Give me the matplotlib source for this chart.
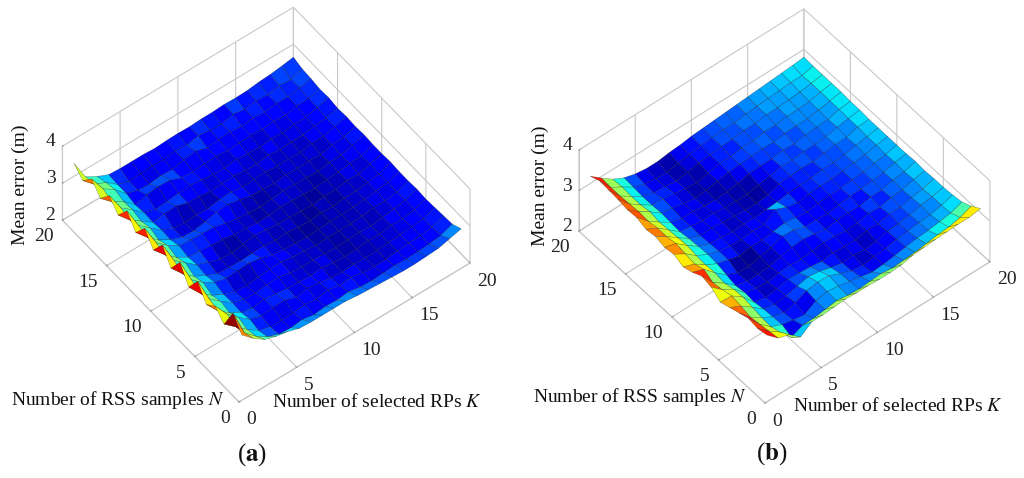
import numpy as np
import matplotlib
matplotlib.use("Agg")
import matplotlib.pyplot as plt
from matplotlib.colors import Normalize
from mpl_toolkits.mplot3d import proj3d

plt.rcParams['font.family'] = ['Liberation Serif', 'DejaVu Serif']
plt.rcParams['mathtext.fontset'] = 'stix'
plt.rcParams['grid.color'] = '#c8c8c8'
plt.rcParams['grid.linewidth'] = 0.8

K_values = list(range(1, 21))
N_values = list(range(1, 21))
K_ticks = [0, 5, 10, 15, 20]
N_ticks = [0, 5, 10, 15, 20]
Z_ticks = [2, 3, 4]

# mean error, rows are N = 1..20, columns are K = 1..20
error_a = [
    [3.38, 3.10, 2.88, 2.78, 2.72, 2.62, 2.60, 2.60, 2.60, 2.60, 2.56, 2.54, 2.52, 2.50, 2.48, 2.48, 2.50, 2.52, 2.60, 2.68],
    [3.72, 3.00, 2.72, 2.52, 2.40, 2.38, 2.42, 2.36, 2.40, 2.38, 2.42, 2.36, 2.34, 2.36, 2.38, 2.36, 2.38, 2.40, 2.44, 2.56],
    [3.18, 2.92, 2.66, 2.44, 2.36, 2.34, 2.36, 2.40, 2.34, 2.42, 2.34, 2.38, 2.32, 2.30, 2.30, 2.34, 2.36, 2.38, 2.42, 2.54],
    [3.42, 3.02, 2.74, 2.50, 2.40, 2.44, 2.46, 2.34, 2.40, 2.36, 2.30, 2.28, 2.30, 2.28, 2.30, 2.32, 2.34, 2.38, 2.40, 2.52],
    [3.22, 2.86, 2.62, 2.44, 2.38, 2.42, 2.38, 2.34, 2.32, 2.30, 2.34, 2.28, 2.26, 2.28, 2.32, 2.30, 2.36, 2.34, 2.40, 2.50],
    [3.60, 2.94, 2.68, 2.46, 2.36, 2.34, 2.38, 2.40, 2.32, 2.30, 2.30, 2.28, 2.26, 2.28, 2.30, 2.28, 2.32, 2.36, 2.42, 2.52],
    [3.20, 2.84, 2.60, 2.44, 2.32, 2.30, 2.34, 2.36, 2.38, 2.32, 2.30, 2.26, 2.28, 2.28, 2.28, 2.30, 2.34, 2.34, 2.38, 2.50],
    [3.62, 2.96, 2.70, 2.52, 2.44, 2.46, 2.48, 2.42, 2.32, 2.28, 2.26, 2.24, 2.26, 2.28, 2.28, 2.30, 2.32, 2.36, 2.40, 2.50],
    [3.22, 2.88, 2.62, 2.46, 2.32, 2.30, 2.28, 2.30, 2.32, 2.28, 2.30, 2.26, 2.24, 2.28, 2.26, 2.30, 2.30, 2.34, 2.38, 2.52],
    [3.60, 3.00, 2.74, 2.50, 2.38, 2.28, 2.26, 2.30, 2.36, 2.32, 2.28, 2.28, 2.26, 2.24, 2.28, 2.28, 2.34, 2.32, 2.40, 2.50],
    [3.22, 2.90, 2.64, 2.46, 2.44, 2.40, 2.38, 2.32, 2.30, 2.26, 2.28, 2.32, 2.30, 2.28, 2.26, 2.30, 2.32, 2.36, 2.38, 2.50],
    [3.56, 2.98, 2.72, 2.52, 2.50, 2.48, 2.46, 2.38, 2.32, 2.28, 2.26, 2.28, 2.32, 2.30, 2.30, 2.28, 2.34, 2.34, 2.42, 2.52],
    [3.20, 2.88, 2.62, 2.44, 2.32, 2.30, 2.36, 2.44, 2.46, 2.40, 2.32, 2.30, 2.28, 2.32, 2.30, 2.32, 2.30, 2.38, 2.40, 2.50],
    [3.54, 2.96, 2.70, 2.46, 2.32, 2.28, 2.30, 2.28, 2.34, 2.36, 2.30, 2.32, 2.34, 2.30, 2.32, 2.30, 2.36, 2.36, 2.44, 2.52],
    [3.18, 2.86, 2.64, 2.42, 2.46, 2.48, 2.38, 2.36, 2.32, 2.34, 2.36, 2.32, 2.30, 2.36, 2.32, 2.34, 2.34, 2.40, 2.42, 2.50],
    [3.46, 2.94, 2.70, 2.44, 2.34, 2.36, 2.40, 2.42, 2.38, 2.34, 2.32, 2.38, 2.34, 2.32, 2.36, 2.34, 2.38, 2.38, 2.46, 2.54],
    [3.14, 2.86, 2.68, 2.40, 2.48, 2.52, 2.50, 2.38, 2.36, 2.38, 2.40, 2.36, 2.38, 2.40, 2.38, 2.40, 2.38, 2.44, 2.46, 2.52],
    [3.42, 2.96, 2.76, 2.46, 2.36, 2.34, 2.38, 2.36, 2.44, 2.48, 2.38, 2.42, 2.44, 2.40, 2.44, 2.40, 2.46, 2.44, 2.50, 2.56],
    [3.13, 2.84, 2.70, 2.46, 2.36, 2.38, 2.40, 2.38, 2.42, 2.40, 2.46, 2.42, 2.40, 2.48, 2.42, 2.46, 2.44, 2.50, 2.48, 2.58],
    [3.35, 2.80, 2.62, 2.48, 2.46, 2.46, 2.46, 2.44, 2.46, 2.47, 2.46, 2.48, 2.48, 2.50, 2.49, 2.50, 2.54, 2.56, 2.60, 2.65],
]

error_b = [
    [3.29, 3.04, 2.95, 2.72, 2.92, 2.92, 2.94, 2.96, 2.94, 2.94, 2.92, 2.92, 2.94, 3.00, 3.02, 3.04, 3.05, 3.06, 3.06, 3.10],
    [3.24, 3.00, 2.80, 2.50, 2.62, 2.62, 2.66, 2.70, 2.66, 2.64, 2.66, 2.68, 2.64, 2.66, 2.68, 2.72, 2.76, 2.78, 2.84, 2.95],
    [3.28, 2.96, 2.72, 2.60, 2.54, 2.50, 2.66, 2.72, 2.68, 2.62, 2.56, 2.50, 2.52, 2.56, 2.60, 2.64, 2.66, 2.70, 2.74, 2.84],
    [3.20, 2.92, 2.74, 2.58, 2.50, 2.58, 2.70, 2.74, 2.72, 2.60, 2.50, 2.46, 2.50, 2.52, 2.58, 2.60, 2.64, 2.66, 2.72, 2.80],
    [3.12, 2.98, 2.78, 2.56, 2.50, 2.54, 2.60, 2.66, 2.62, 2.54, 2.48, 2.50, 2.46, 2.50, 2.56, 2.58, 2.62, 2.68, 2.72, 2.78],
    [3.04, 3.02, 2.82, 2.52, 2.46, 2.50, 2.56, 2.54, 2.52, 2.48, 2.52, 2.50, 2.48, 2.54, 2.54, 2.60, 2.60, 2.66, 2.70, 2.78],
    [3.20, 2.96, 2.80, 2.54, 2.48, 2.46, 2.50, 2.52, 2.50, 2.52, 2.56, 2.54, 2.50, 2.52, 2.58, 2.56, 2.62, 2.64, 2.72, 2.76],
    [3.26, 2.92, 2.74, 2.50, 2.44, 2.44, 2.46, 2.52, 2.58, 2.60, 2.56, 2.50, 2.54, 2.56, 2.54, 2.60, 2.60, 2.66, 2.70, 2.78],
    [3.14, 3.04, 2.78, 2.56, 2.43, 2.42, 2.48, 2.54, 2.64, 2.62, 2.52, 2.52, 2.50, 2.54, 2.58, 2.58, 2.62, 2.64, 2.72, 2.76],
    [3.06, 2.96, 2.76, 2.62, 2.54, 2.46, 2.52, 2.50, 2.54, 2.58, 2.54, 2.50, 2.54, 2.56, 2.56, 2.60, 2.62, 2.66, 2.70, 2.76],
    [3.16, 3.00, 2.78, 2.64, 2.54, 2.50, 2.48, 2.52, 2.50, 2.70, 2.58, 2.52, 2.56, 2.58, 2.58, 2.60, 2.64, 2.66, 2.72, 2.76],
    [3.12, 3.04, 2.82, 2.62, 2.52, 2.50, 2.46, 2.48, 2.46, 2.48, 2.50, 2.54, 2.56, 2.56, 2.60, 2.60, 2.62, 2.68, 2.72, 2.76],
    [3.18, 3.00, 2.80, 2.60, 2.50, 2.52, 2.48, 2.46, 2.44, 2.43, 2.46, 2.56, 2.58, 2.60, 2.58, 2.62, 2.66, 2.66, 2.74, 2.76],
    [3.14, 3.00, 2.78, 2.56, 2.52, 2.48, 2.50, 2.46, 2.44, 2.44, 2.50, 2.54, 2.60, 2.58, 2.62, 2.62, 2.64, 2.70, 2.74, 2.78],
    [3.22, 2.96, 2.76, 2.58, 2.50, 2.50, 2.46, 2.44, 2.46, 2.50, 2.56, 2.58, 2.58, 2.62, 2.60, 2.64, 2.66, 2.68, 2.75, 2.78],
    [3.20, 2.98, 2.80, 2.60, 2.54, 2.48, 2.44, 2.46, 2.52, 2.56, 2.58, 2.60, 2.62, 2.60, 2.64, 2.66, 2.66, 2.70, 2.75, 2.80],
    [3.24, 2.96, 2.76, 2.58, 2.56, 2.52, 2.46, 2.44, 2.50, 2.56, 2.56, 2.60, 2.60, 2.64, 2.64, 2.68, 2.68, 2.70, 2.76, 2.80],
    [3.26, 2.94, 2.76, 2.58, 2.50, 2.48, 2.44, 2.48, 2.54, 2.56, 2.60, 2.60, 2.64, 2.64, 2.68, 2.68, 2.70, 2.72, 2.76, 2.80],
    [3.28, 2.94, 2.78, 2.60, 2.50, 2.46, 2.44, 2.50, 2.54, 2.58, 2.60, 2.62, 2.62, 2.66, 2.68, 2.70, 2.72, 2.74, 2.74, 2.80],
    [3.18, 2.96, 2.76, 2.62, 2.54, 2.50, 2.50, 2.54, 2.56, 2.60, 2.62, 2.64, 2.66, 2.68, 2.70, 2.72, 2.74, 2.76, 2.78, 2.81],
]

W, H = 1024, 478
fig = plt.figure(figsize=(W / 100, H / 100), dpi=100)


def corner_px(ax, x, y, z):
    xs, ys, _ = proj3d.proj_transform(x, y, z, ax.get_proj())
    return ax.transData.transform((xs, ys))


def tick_label(ax, x, y, z, s, dx, dy, ha):
    px, py = corner_px(ax, x, y, z)
    fig.text((px + dx) / W, (py - dy) / H, s, ha=ha, va='center', fontsize=14, color='#222222')


def draw_panel(left, error, vmin, vmax, elev, azim, aspect, origin, k_end):
    ax = fig.add_axes([left / W, 0.0, 478 / W, 1.0], projection='3d', proj_type='ortho')
    ax.patch.set_alpha(0)
    ax.view_init(elev=elev, azim=azim)
    ax.set_xlim(0, 20)
    ax.set_ylim(0, 20)
    ax.set_zlim(2, 4)
    ax.set_xticks(K_ticks)
    ax.set_yticks(N_ticks)
    ax.set_zticks(Z_ticks)
    ax.set_xticklabels([])
    ax.set_yticklabels([])
    ax.set_zticklabels([])
    ax.tick_params(color='#999999', width=0.6)
    for axis in (ax.xaxis, ax.yaxis, ax.zaxis):
        axis.set_pane_color((1, 1, 1, 0))
        axis.pane.set_edgecolor('#c8c8c8')
        axis.line.set_color('#c8c8c8')
        axis.line.set_linewidth(0.8)
        axis._axinfo['tick']['inward_factor'] = 0.0
        axis._axinfo['tick']['outward_factor'] = 0.06

    X, Y = np.meshgrid(K_values, N_values)
    Z = np.array(error)
    colors = plt.cm.jet(Normalize(vmin, vmax)(Z))
    ax.plot_surface(X, Y, Z, facecolors=colors, rstride=1, cstride=1, shade=False,
                    edgecolor=(0, 0, 0, 0.5), linewidth=0.3, antialiased=True)

    # fit the box onto the pixel positions of the floor corners
    ax.set_box_aspect(aspect, zoom=1.0)
    fig.canvas.draw()
    p0 = corner_px(ax, 0, 0, 2)
    p1 = corner_px(ax, 20, 0, 2)
    zoom = np.hypot(*(np.array(k_end) - np.array(origin))) / np.hypot(*(p1 - p0))
    ax.set_box_aspect(aspect, zoom=zoom)
    fig.canvas.draw()
    p0 = corner_px(ax, 0, 0, 2)
    pos = ax.get_position()
    ax.set_position([pos.x0 + (origin[0] - p0[0]) / W, pos.y0 + (H - origin[1] - p0[1]) / H,
                     pos.width, pos.height])
    fig.canvas.draw()

    for k in K_ticks:
        tick_label(ax, k, 0, 2, str(k), 7, 18, 'left')
    for n in N_ticks:
        tick_label(ax, 0, n, 2, str(n), -9, 16.5, 'right')
    for z in Z_ticks:
        tick_label(ax, 0, 20, z, str(z), -7, -4.5, 'right')
    return ax


draw_panel(0, error_a, 2.2, 3.75, 51.9, -127.4, (291, 291, 120), (239, 402), (470, 263))
draw_panel(530, error_b, 2.4, 3.4, 49.6, -129.5, (291, 292, 125), (765, 403), (990, 262))


def pxtext(x, y, s, **kw):
    fig.text(x / W, 1 - y / H, s, ha='center', va='center', color='#111111', **kw)


pxtext(20, 185, "Mean error (m)", fontsize=14, rotation=90)
pxtext(118, 400, r"Number of RSS samples $\mathit{N}$", fontsize=14)
pxtext(377, 402, r"Number of selected RPs $\mathit{K}$", fontsize=14)
pxtext(252, 455, r"($\mathbf{a}$)", fontsize=18)

pxtext(540, 186, "Mean error (m)", fontsize=14, rotation=90)
pxtext(640, 397, r"Number of RSS samples $\mathit{N}$", fontsize=14)
pxtext(898, 406, r"Number of selected RPs $\mathit{K}$", fontsize=14)
pxtext(772, 454, r"($\mathbf{b}$)", fontsize=18)

fig.savefig("out.png", dpi=100)
